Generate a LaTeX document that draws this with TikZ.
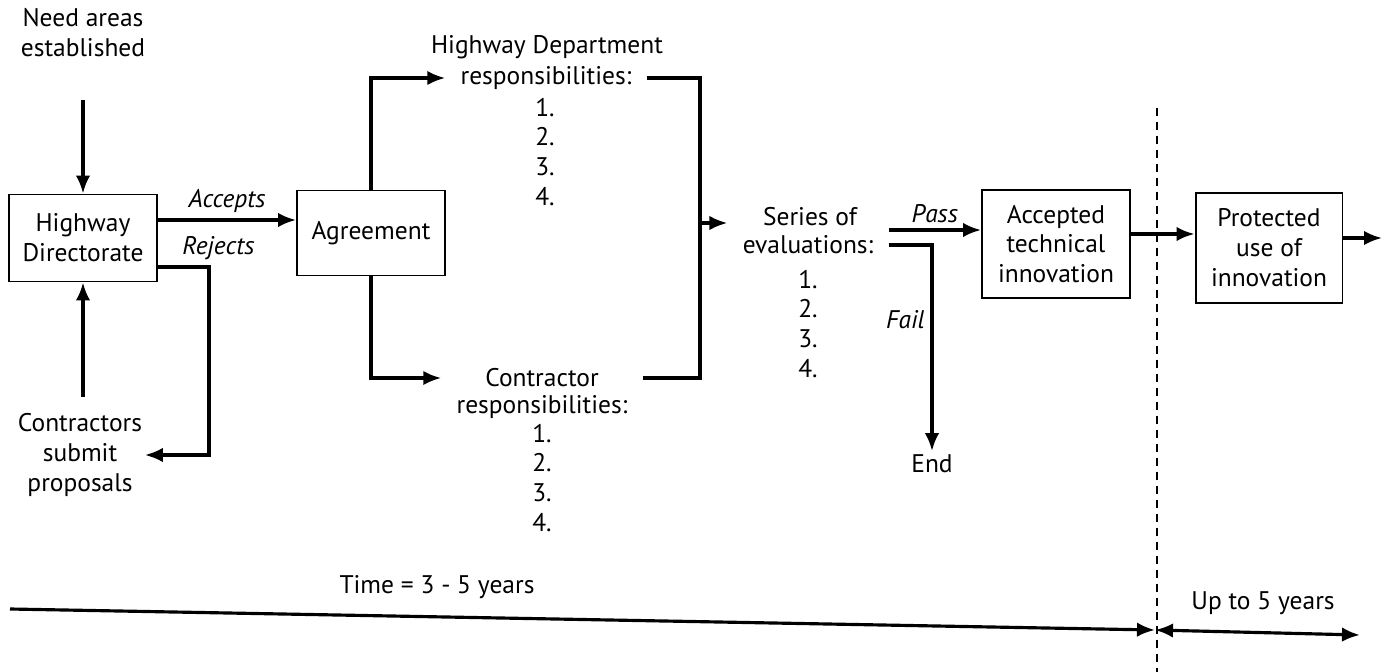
\documentclass[tikz,border=0pt]{standalone}
\usepackage{fontspec}
\setmainfont{PT Sans}
\usetikzlibrary{arrows.meta}

\begin{document}
\begin{tikzpicture}[
    x=0.02cm, y=-0.02cm,
    font=\fontsize{14.5}{17}\selectfont,
    box/.style={draw,line width=1.1pt,align=center,minimum width=2.96cm},
    txt/.style={align=center,inner xsep=0.3cm,inner ysep=2pt},
    lbl/.style={font=\fontsize{14.5}{17}\selectfont\itshape},
    tip/.tip={Latex[length=0.36cm,width=0.29cm]},
    arr/.style={-tip,line width=1.8pt}
]
\useasboundingbox (0,0) rectangle (1385,672);
\node[txt] (need) at (83,33) {Need areas\\established};
\node[box,minimum height=1.74cm] (hwd) at (83,238) {Highway\\Directorate};
\node[txt,inner xsep=0.05cm] (contr) at (80,455) {Contractors\\submit\\proposals};
\node[box,minimum height=1.7cm] (agree) at (371,233) {Agreement};
\node[txt] (hdtitle) at (547,47) {Highway Department};
\node[txt] (hdresp) at (546,78) {responsibilities:};
\node[txt] (hditems) at (545,152) {1.\\2.\\3.\\4.};
\node[txt] (ctitle) at (542,378) {Contractor};
\node[txt] (cresp) at (542,407) {responsibilities:};
\node[txt] (citems) at (542,478) {1.\\2.\\3.\\4.};
\node[txt] (sertitle) at (810,217) {Series of};
\node[txt] (evals) at (808,245) {evaluations:};
\node[txt] (seritems) at (808,324) {1.\\2.\\3.\\4.};
\node[txt] (endn) at (932,464) {End};
\node[box,minimum height=2.16cm] (accepted) at (1056,244) {Accepted\\technical\\innovation};
\node[box,minimum width=2.94cm,minimum height=2.2cm] (protect) at (1269,248) {Protected\\use of\\innovation};
\node (tlabel) at (437,587) {Time = 3 - 5 years};
\node (uplabel) at (1263,603) {Up to 5 years};

\coordinate (ac) at ([yshift=0.36cm]hwd.east);
\coordinate (rj) at ([yshift=-0.58cm]hwd.east);
\coordinate (join) at (700,223);
\coordinate (ps) at ([yshift=0.3cm]evals.east);
\coordinate (ap) at ([yshift=0.2cm]accepted.east);
\coordinate (out) at (1382,238);
\coordinate (dtop) at (1157,108);
\coordinate (dbot) at (1157,672);
\coordinate (tl) at (10,609);
\coordinate (tm) at (1155,630);
\coordinate (tr) at (1360,635);

\draw[arr] (need.south) ++(0,39) -- (hwd.north);
\draw[arr] (hwd.south |- contr.north) ++(0,-13) -- (hwd.south);
\draw[arr] (ac) -- node[above,lbl]{Accepts} (ac -| agree.west);
\draw[arr] (rj) -- node[above,lbl,xshift=0.7cm]{Rejects} ++(51,0) |- (contr.east);
\draw[arr] (agree.north) |- (hdresp.west);
\draw[arr] (agree.south) |- (ctitle.west -| cresp.west);
\draw[line width=1.8pt] (hdresp.east) -| (join) |- (ctitle.east -| cresp.east);
\draw[arr] (join) -- (join -| evals.west);
\draw[arr] (ps) -- node[above,lbl]{Pass} (ps -| accepted.west);
\draw[arr] (evals.east) -| node[left,lbl,pos=0.68]{Fail} (endn.north);
\draw[arr] (ap) -- (ap -| protect.west);
\draw[arr] (out -| protect.east) -- (out);
\draw[line width=0.8pt,dash pattern=on 0.16cm off 0.12cm] (dtop) -- (dbot);
\draw[arr] (tl) -- (tm);
\draw[arr,tip-tip] (tm) -- (tr);
\end{tikzpicture}
\end{document}
